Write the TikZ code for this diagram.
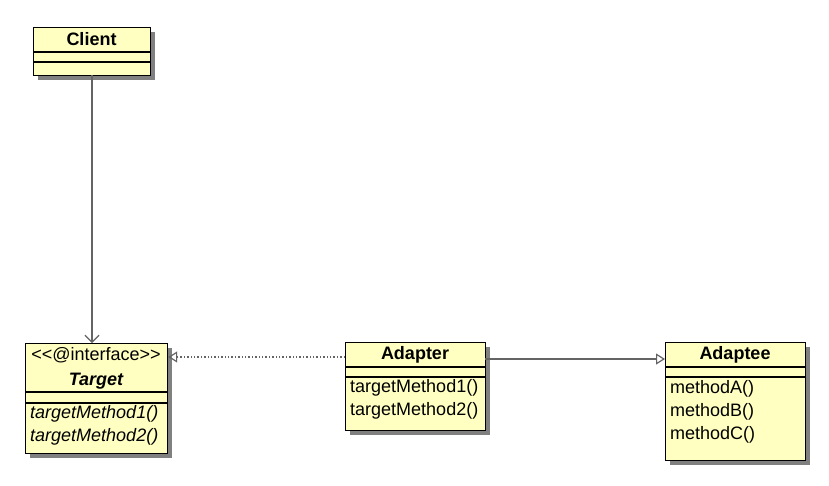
\documentclass[tikz,border=0pt]{standalone}
\usepackage{fontspec}
\newfontfamily\umlfont{Liberation Sans}
\usetikzlibrary{shadows,arrows.meta,calc}
\definecolor{umlfill}{RGB}{255,255,194}
\definecolor{shadowgray}{RGB}{128,128,128}
\definecolor{linkgray}{RGB}{100,100,100}
\tikzset{
  classbox/.style={draw=black, fill=umlfill, line width=1.2pt, inner sep=0pt, anchor=north west,
    drop shadow={shadow xshift=4pt, shadow yshift=-4pt, fill=shadowgray, opacity=1}},
  divider/.style={draw=black, line width=1.2pt},
  title/.style={font=\umlfont\fontsize{18}{20}\selectfont\bfseries, inner sep=0pt, anchor=center},
  member/.style={font=\umlfont\fontsize{18}{20}\selectfont, inner sep=0pt, anchor=west},
  imember/.style={font=\umlfont\fontsize{18}{20}\selectfont\itshape, inner sep=0pt, anchor=west},
  link/.style={draw=linkgray, line width=1.4pt},
  opentri/.style={-{Triangle[open, length=9pt, width=11pt, line width=1.2pt]}},
  openvee/.style={-{Straight Barb[length=7pt, width=14pt, line width=1.2pt]}},
}
\begin{document}
\begin{tikzpicture}[x=1pt,y=-1pt]
\useasboundingbox[fill=white] (0,0) rectangle (829,485);

% Client
\node[classbox, minimum width=117pt, minimum height=48pt] (client) at (33,27) {};
\draw[divider] (33,52) -- (150,52);
\draw[divider] (33,62) -- (150,62);
\node[title] (clientname) at (91.5,39.5) {Client};

% Target
\node[classbox, minimum width=142pt, minimum height=110pt] (target) at (25,343) {};
\draw[divider] (25,392) -- (167,392);
\draw[divider] (25,403) -- (167,403);
\node[font=\umlfont\fontsize{18}{20}\selectfont, inner sep=0pt] (stereo) at (96,355.5) {<{}<@interface>{}>};
\node[title, font=\umlfont\fontsize{18}{20}\selectfont\bfseries\itshape] (targetname) at (96,381) {Target};
\node[imember] (tm1) at (30,414) {targetMethod1()};
\node[imember] (tm2) at (30,437) {targetMethod2()};

% Adapter
\node[classbox, minimum width=140pt, minimum height=88pt] (adapter) at (345,342) {};
\draw[divider] (345,367) -- (485,367);
\draw[divider] (345,377) -- (485,377);
\node[title] (adaptername) at (415,354.5) {Adapter};
\node[member] (am1) at (350,388) {targetMethod1()};
\node[member] (am2) at (350,411) {targetMethod2()};

% Adaptee
\node[classbox, minimum width=140pt, minimum height=118pt] (adaptee) at (665,342) {};
\draw[divider] (665,367) -- (805,367);
\draw[divider] (665,377) -- (805,377);
\node[title] (adapteename) at (735,354.5) {Adaptee};
\node[member] (em1) at (670,388.5) {methodA()};
\node[member] (em2) at (670,411.5) {methodB()};
\node[member] (em3) at (670,434.5) {methodC()};

% connectors
\coordinate (cs) at (92,75);
\draw[link, openvee] (cs) -- (cs |- target.north);
\coordinate (ad) at (345,357);
\draw[link, opentri, dotted] (ad) -- (ad -| target.east);
\coordinate (ar) at (485,359);
\draw[link, opentri] (ar) -- (ar -| adaptee.west);
\end{tikzpicture}
\end{document}
